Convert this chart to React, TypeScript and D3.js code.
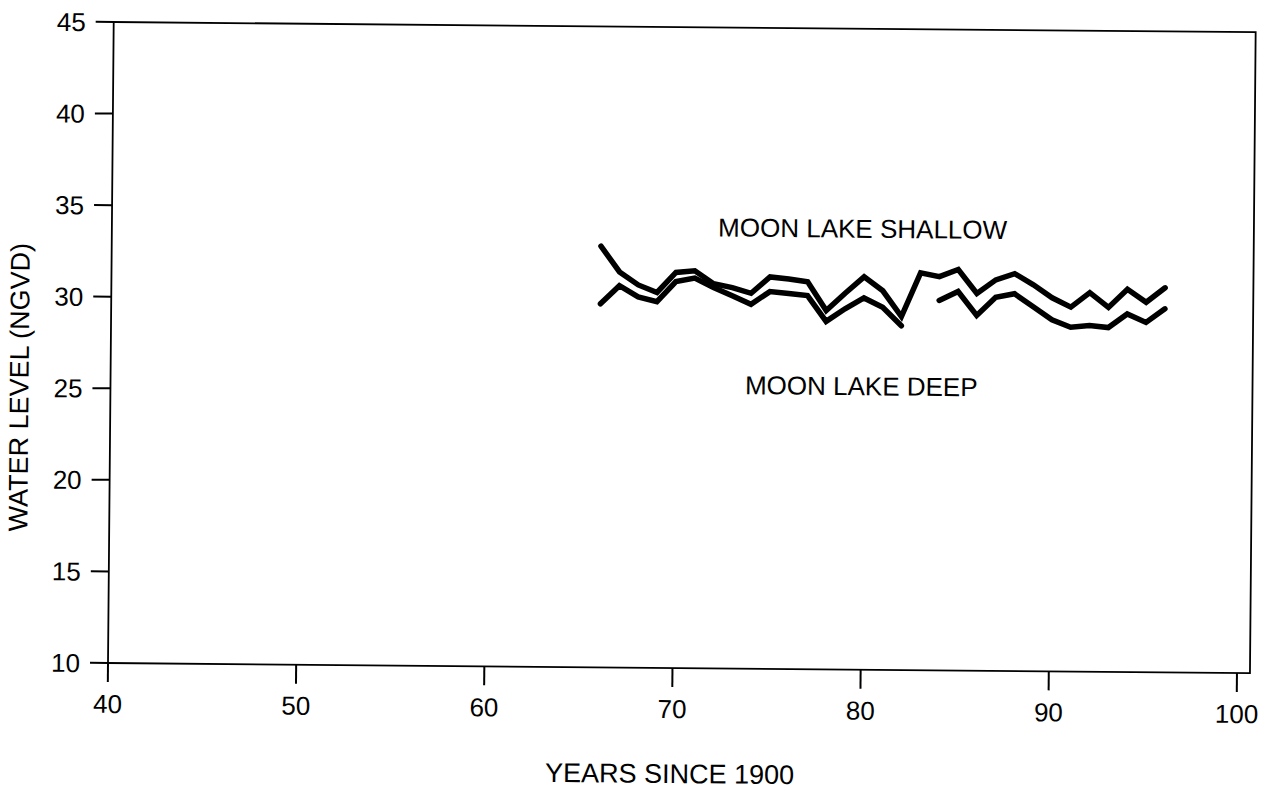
import * as d3 from 'd3';
import React from 'react';

// years of record (since 1900)
const years = [66, 67, 68, 69, 70, 71, 72, 73, 74, 75, 76, 77, 78, 79, 80, 81,
  82, 83, 84, 85, 86, 87, 88, 89, 90, 91, 92, 93, 94, 95, 96];

// Moon Lake shallow well, water level (NGVD)
const shallow = [33.0, 31.6, 30.9, 30.5, 31.6, 31.7, 31.0, 30.8, 30.5, 31.4, 31.3,
  31.15, 29.6, 30.55, 31.45, 30.7, 29.3, 31.7, 31.5, 31.9, 30.6, 31.35, 31.7,
  31.1, 30.4, 29.9, 30.7, 29.9, 30.9, 30.2, 31.0];

// Moon Lake deep well, no reading for 83
const deep = [29.85, 30.85, 30.25, 30.0, 31.1, 31.3, 30.8, 30.35, 29.9, 30.6, 30.5,
  30.4, 29.0, 29.7, 30.3, 29.8, 28.8, null, 30.2, 30.7, 29.4, 30.4, 30.6, 29.9,
  29.2, 28.8, 28.9, 28.8, 29.55, 29.1, 29.85];

const xTicks = [40, 50, 60, 70, 80, 90, 100];
const yTicks = [10, 15, 20, 25, 30, 35, 40, 45];

const seriesLabels = [
  { text: 'MOON LAKE SHALLOW', year: 79.9, level: 34.1 },
  { text: 'MOON LAKE DEEP', year: 79.9, level: 25.5 },
];

const font = '"Liberation Sans", Arial, Helvetica, sans-serif';

export default function App() {
  const width = 1274;
  const height = 794;
  // origin of the plot frame (bottom-left corner), the scan is slightly tilted
  const ox = 108, oy = 663;
  const plotW = 1129, frameW = 1142, plotH = 641;

  const x = d3.scaleLinear().domain([40, 100]).range([0, plotW]);
  const y = d3.scaleLinear().domain([10, 45]).range([0, -plotH]);

  const line = d3.line<number | null>()
    .defined(d => d != null)
    .x((d, i) => x(years[i]))
    .y(d => y(d as number));

  return (
    <svg width={width} height={height}
      style={{ position: 'absolute', left: 0, top: 0, background: '#fff' }}
      fontFamily={font}>
      <g transform={`translate(${ox},${oy}) rotate(0.51)`}>
        {/* frame */}
        <rect x={0} y={-plotH} width={frameW} height={plotH}
          fill="none" stroke="#000" strokeWidth={1.8} />

        {/* y axis */}
        {yTicks.map(t => (
          <g key={'y' + t}>
            <line x1={-18} x2={0} y1={y(t)} y2={y(t)} stroke="#000" strokeWidth={2} />
            <text x={-28} y={y(t)} dy="0.36em" textAnchor="end" fontSize={26}>{t}</text>
          </g>
        ))}

        {/* x axis */}
        {xTicks.map(t => (
          <g key={'x' + t}>
            <line x1={x(t)} x2={x(t)} y1={0} y2={19} stroke="#000" strokeWidth={2} />
            <text x={x(t)} y={50} textAnchor="middle" fontSize={26}>{t}</text>
          </g>
        ))}

        {/* series */}
        <path d={line(shallow) || ''} fill="none" stroke="#000" strokeWidth={5.5}
          strokeLinejoin="miter" strokeLinecap="round" />
        <path d={line(deep) || ''} fill="none" stroke="#000" strokeWidth={5.5}
          strokeLinejoin="miter" strokeLinecap="round" />

        {seriesLabels.map(l => (
          <text key={l.text} x={x(l.year)} y={y(l.level)} dy="0.36em"
            textAnchor="middle" fontSize={26}>{l.text}</text>
        ))}

        {/* axis titles */}
        <text x={plotW / 2 - 2} y={115} textAnchor="middle" fontSize={27}>YEARS SINCE 1900</text>
        <text transform={`translate(-82,${-275}) rotate(-90)`}
          textAnchor="middle" fontSize={27}>WATER LEVEL (NGVD)</text>
      </g>
    </svg>
  );
}
